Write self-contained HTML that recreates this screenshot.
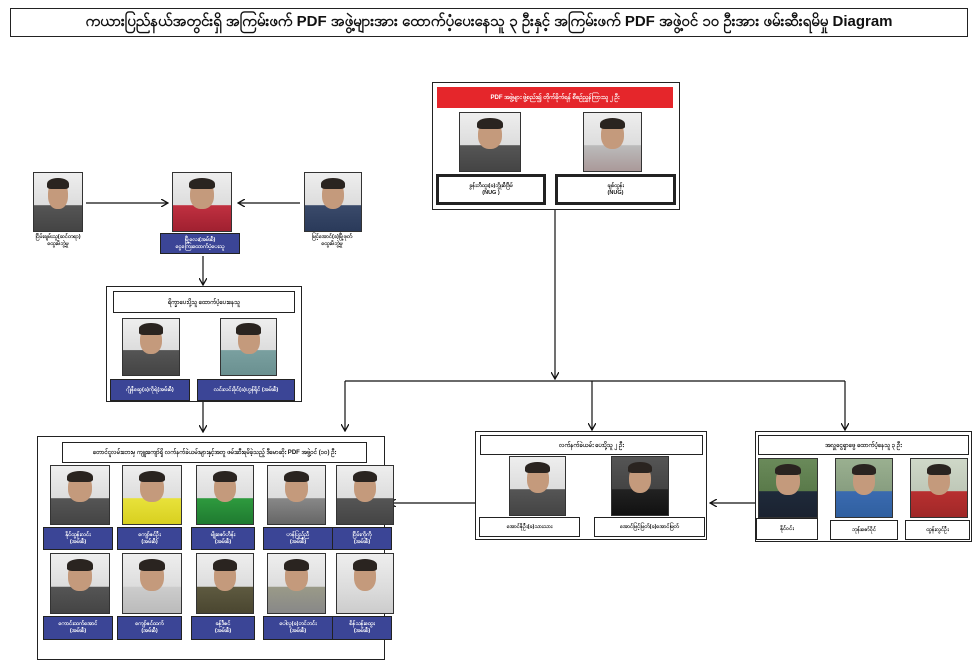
<!DOCTYPE html>
<html><head><meta charset="utf-8">
<style>
*{margin:0;padding:0;box-sizing:border-box}
body{width:977px;height:665px;background:#fff;position:relative;overflow:hidden;font-family:"Liberation Sans","Noto Sans CJK SC",sans-serif;color:#111}
.a{position:absolute}
.box{position:absolute;border:1px solid #222;background:#fff}
.hd{position:absolute;border:1px solid #222;background:#fff;font-size:6px;font-weight:bold;display:flex;align-items:center;justify-content:center;text-align:center}
.ph{position:absolute;border:1px solid #333;overflow:hidden;background:linear-gradient(#eee,#ddd 55%,#555 56%,#444)}
.ph:before{content:"";position:absolute;left:30%;top:14%;width:40%;height:48%;border-radius:45%;background:#c49a7c}
.ph:after{content:"";position:absolute;left:28%;top:8%;width:44%;height:20%;border-radius:50% 50% 20% 20%;background:#2a2420}
.bl{position:absolute;background:#3b4596;color:#fff;font-size:5.5px;font-weight:bold;display:flex;align-items:center;justify-content:center;text-align:center;line-height:7px;border:1px solid #222}
.wl{position:absolute;border:1px solid #222;background:#fff;font-size:5.5px;font-weight:bold;display:flex;align-items:center;justify-content:center;text-align:center;line-height:7px}
</style></head><body>
<div class="box" style="left:10px;top:8px;width:958px;height:29px;border-width:1.5px;display:flex;align-items:center;justify-content:center;font-size:15px;font-weight:bold;white-space:nowrap">ကယားပြည်နယ်အတွင်းရှိ အကြမ်းဖက် PDF အဖွဲ့များအား ထောက်ပံ့ပေးနေသူ ၃ ဦးနှင့် အကြမ်းဖက် PDF အဖွဲ့ဝင် ၁၀ ဦးအား ဖမ်းဆီးရမိမှု Diagram</div>

<svg class="a" style="left:0;top:0" width="977" height="665">
<defs><marker id="m" markerWidth="8" markerHeight="8" refX="7" refY="4" orient="auto" markerUnits="userSpaceOnUse"><path d="M0,0 L7,4 L0,8" fill="none" stroke="#111" stroke-width="1.3"/></marker></defs>
<g stroke="#111" stroke-width="1.2" fill="none">
<line x1="555" y1="210" x2="555" y2="379" marker-end="url(#m)"/>
<line x1="345" y1="381" x2="845" y2="381"/>
<line x1="345" y1="381" x2="345" y2="431" marker-end="url(#m)"/>
<line x1="592" y1="381" x2="592" y2="430" marker-end="url(#m)"/>
<line x1="845" y1="381" x2="845" y2="430" marker-end="url(#m)"/>
<line x1="86" y1="203" x2="168" y2="203" marker-end="url(#m)"/>
<line x1="300" y1="203" x2="238" y2="203" marker-end="url(#m)"/>
<line x1="203" y1="256" x2="203" y2="285" marker-end="url(#m)"/>
<line x1="203" y1="402" x2="203" y2="432" marker-end="url(#m)"/>
<line x1="475" y1="503" x2="389" y2="503" marker-end="url(#m)"/>
<line x1="755" y1="503" x2="710" y2="503" marker-end="url(#m)"/>
</g></svg>

<div class="box" style="left:432px;top:82px;width:248px;height:128px"></div>
<div class="a" style="left:437px;top:87px;width:236px;height:21px;background:#e5262b;color:#fff;font-size:6px;font-weight:bold;display:flex;align-items:center;justify-content:center">PDF အဖွဲ့များ ဖွဲ့စည်း၍ တိုက်ခိုက်ရန် စီစဉ်ညွှန်ကြားသူ ၂ ဦး</div>
<div class="ph" style="left:459px;top:112px;width:62px;height:60px"></div>
<div class="ph" style="left:583px;top:112px;width:59px;height:60px;background:linear-gradient(#eee,#ddd 55%,#bbb 56%,#a99)"></div>
<div class="wl" style="left:436px;top:174px;width:110px;height:31px;border:3px solid #222">ခွန်းဘီထူး(ခ)ဘွိုးစီဒြိမ်<br>(NUG )</div>
<div class="wl" style="left:555px;top:174px;width:121px;height:31px;border:3px solid #222">ချစ်ထွန်း<br>(NUG)</div>

<div class="ph" style="left:33px;top:172px;width:50px;height:60px"></div>
<div class="a" style="left:25px;top:234px;width:66px;font-size:5.5px;font-weight:bold;text-align:center;line-height:7px">ငြိမ်းချမ်းသူ(ဆင်တရာ)<br>ထွေးမိဘွဲ့မှု</div>
<div class="ph" style="left:172px;top:172px;width:60px;height:60px;background:linear-gradient(#eee,#ddd 55%,#c03040 56%,#a02030)"></div>
<div class="bl" style="left:160px;top:233px;width:80px;height:21px">မြို့လေး(အမ်းစီ)<br>ငွေကြေးထောက်ပံ့ပေးသူ</div>
<div class="ph" style="left:304px;top:172px;width:58px;height:60px;background:linear-gradient(#eee,#ddd 55%,#3a4a6a 56%,#2a3a5a)"></div>
<div class="a" style="left:296px;top:234px;width:72px;font-size:5.5px;font-weight:bold;text-align:center;line-height:7px">မြင့်အောင်(ခ)မြို့ဖုတ်<br>ထွေးမိဘွဲ့မှု</div>

<div class="box" style="left:106px;top:286px;width:196px;height:116px"></div>
<div class="hd" style="left:113px;top:291px;width:182px;height:22px">ရိက္ခာပေးပို့သူ ထောက်ပံ့ပေးနေသူ</div>
<div class="ph" style="left:122px;top:318px;width:58px;height:58px"></div>
<div class="ph" style="left:220px;top:318px;width:57px;height:58px;background:linear-gradient(#eee,#ddd 55%,#7aa0a0 56%,#6a9090)"></div>
<div class="bl" style="left:110px;top:379px;width:80px;height:22px">ဂျိုနီဆွေ(ခ)ကိုရဲ(အမ်းစီ)</div>
<div class="bl" style="left:197px;top:379px;width:98px;height:22px">လင်းလင်းခိုင်(ခ)ဟွန်ရိုင် (အမ်းစီ)</div>

<div class="box" style="left:37px;top:436px;width:348px;height:224px"></div>
<div class="hd" style="left:62px;top:442px;width:305px;height:21px">တောင်ငူလမ်းဘေးမှ ကျူးကျော်ရှိ လက်နက်ခဲယမ်းများနှင့်အတူ ဖမ်းဆီးရမိခဲ့သည့် ဒီမောဆိုး PDF အဖွဲ့ဝင် (၁၀) ဦး</div>
<div class="ph" style="left:50px;top:465px;width:60px;height:60px"></div>
<div class="ph" style="left:122px;top:465px;width:60px;height:60px;background:linear-gradient(#eee,#ddd 55%,#e8e23a 56%,#d8d020)"></div>
<div class="ph" style="left:196px;top:465px;width:58px;height:60px;background:linear-gradient(#eee,#ddd 55%,#2e9a3e 56%,#1f7a30)"></div>
<div class="ph" style="left:267px;top:465px;width:59px;height:60px;background:linear-gradient(#eee,#ddd 55%,#888 56%,#666)"></div>
<div class="ph" style="left:336px;top:465px;width:58px;height:60px"></div>
<div class="bl" style="left:43px;top:527px;width:70px;height:23px">နိုင်ထွန်းလင်း<br>(အမ်းစီ)</div>
<div class="bl" style="left:117px;top:527px;width:65px;height:23px">ကျော်ဇင်ဦး<br>(အမ်းစီ)</div>
<div class="bl" style="left:191px;top:527px;width:64px;height:23px">မျိုးဇော်ဟိန်း<br>(အမ်းစီ)</div>
<div class="bl" style="left:263px;top:527px;width:70px;height:23px">ဟန်ပြည့်ညီ<br>(အမ်းစီ)</div>
<div class="bl" style="left:332px;top:527px;width:60px;height:23px">ငြိမ်းကိုကို<br>(အမ်းစီ)</div>
<div class="ph" style="left:50px;top:553px;width:60px;height:61px"></div>
<div class="ph" style="left:122px;top:553px;width:60px;height:61px;background:linear-gradient(#eee,#ddd 55%,#ccc 56%,#bbb)"></div>
<div class="ph" style="left:196px;top:553px;width:58px;height:61px;background:linear-gradient(#eee,#ddd 55%,#5e5a40 56%,#4a4630)"></div>
<div class="ph" style="left:267px;top:553px;width:59px;height:61px;background:linear-gradient(#eee,#ddd 55%,#9a9a88 56%,#888)"></div>
<div class="ph" style="left:336px;top:553px;width:58px;height:61px;background:linear-gradient(#eee,#ddd 55%,#ddd 56%,#ccc)"></div>
<div class="bl" style="left:43px;top:616px;width:70px;height:24px">ကောင်းထက်အောင်<br>(အမ်းစီ)</div>
<div class="bl" style="left:117px;top:616px;width:65px;height:24px">ကျော်ဇင်ထက်<br>(အမ်းစီ)</div>
<div class="bl" style="left:191px;top:616px;width:64px;height:24px">ခန့်ဒီဇင်<br>(အမ်းစီ)</div>
<div class="bl" style="left:263px;top:616px;width:70px;height:24px">ပေါလူ(ခ)ဘင်ဘင်း<br>(အမ်းစီ)</div>
<div class="bl" style="left:332px;top:616px;width:60px;height:24px">စိန်သန်းထွေး<br>(အမ်းစီ)</div>

<div class="box" style="left:475px;top:431px;width:232px;height:109px"></div>
<div class="hd" style="left:480px;top:435px;width:223px;height:20px">လက်နက်ခဲယမ်း ပေးပို့သူ ၂ ဦး</div>
<div class="ph" style="left:509px;top:456px;width:57px;height:60px"></div>
<div class="ph" style="left:611px;top:456px;width:58px;height:60px;background:linear-gradient(#555,#444 55%,#222 56%,#111)"></div>
<div class="wl" style="left:479px;top:517px;width:101px;height:20px">အောင်ဇိုဦး(ခ)သားသား</div>
<div class="wl" style="left:594px;top:517px;width:111px;height:20px">အောင်မြင့်မြတ်(ခ)အောင်မြတ်</div>

<div class="box" style="left:755px;top:431px;width:217px;height:111px"></div>
<div class="hd" style="left:758px;top:435px;width:211px;height:20px">အလှူငွေရှာဖွေ ထောက်ပံ့နေသူ ၃ ဦး</div>
<div class="ph" style="left:758px;top:458px;width:60px;height:60px;background:linear-gradient(#6a8a5a,#5a7a4a 55%,#1f2a3a 56%,#1a2230)"></div>
<div class="ph" style="left:835px;top:458px;width:58px;height:60px;background:linear-gradient(#9ab090,#889e80 55%,#3a6ab0 56%,#3060a0)"></div>
<div class="ph" style="left:910px;top:458px;width:58px;height:60px;background:linear-gradient(#cfd8c8,#bfc8b8 55%,#b83030 56%,#a02828)"></div>
<div class="wl" style="left:756px;top:518px;width:62px;height:22px">နိုင်ဝင်း</div>
<div class="wl" style="left:830px;top:520px;width:68px;height:20px">ဘုန်းဇော်ဝိုင်</div>
<div class="wl" style="left:905px;top:520px;width:65px;height:20px">ထွန်းလွင်ဦး</div>
</body></html>
